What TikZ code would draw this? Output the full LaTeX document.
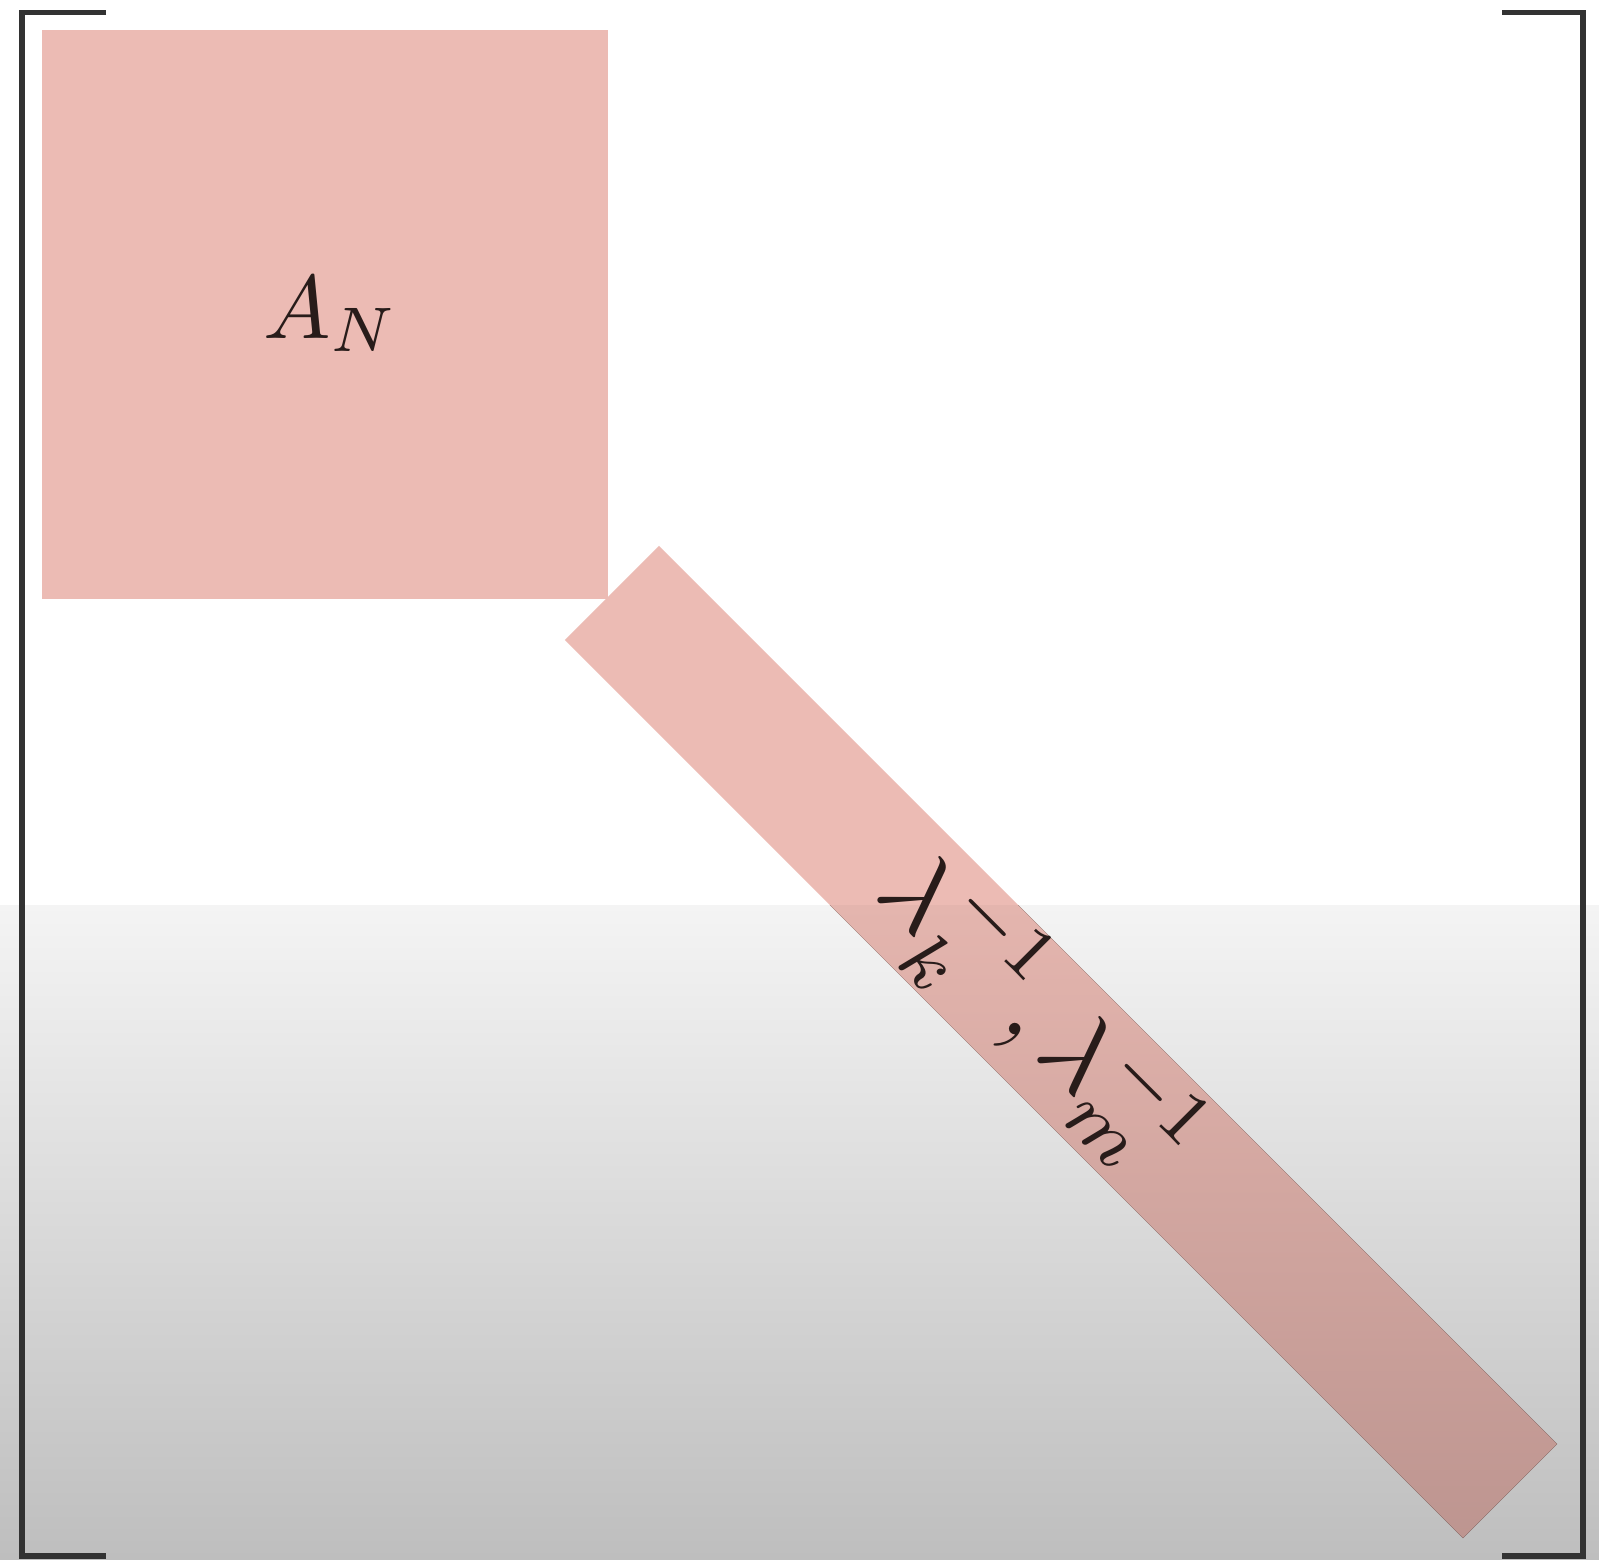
\documentclass[tikz,border=0pt]{standalone}
\usetikzlibrary{calc}
\definecolor{blockpink}{RGB}{236,187,180}
\definecolor{pinkmid}{RGB}{228,181,174}
\definecolor{pinkbot}{RGB}{188,148,143}
\definecolor{brk}{RGB}{50,50,50}
\definecolor{shadetop}{RGB}{244,244,244}
\definecolor{shadebot}{RGB}{190,190,190}
\tikzset{
  block/.style={fill=blockpink, draw=none, inner sep=0pt, outer sep=0pt},
  bracket/.style={draw=brk, line width=5.5pt, line cap=butt, line join=miter},
  lbl/.style={inner sep=0pt, text={rgb,255:red,40;green,28;blue,26}}
}
\begin{document}
\begin{tikzpicture}[x=1pt,y=-1pt]
\fill[white] (0,0) rectangle (1599,1559);
\useasboundingbox (0,0) rectangle (1599,1559);
% lower grey fade of the background
\fill[top color=shadetop, bottom color=shadebot] (0,905) rectangle (1599,1559);
% top-left block
\node[block, minimum width=566pt, minimum height=569pt] (AN) at (325,314.5) {};
\node[lbl, scale=9.0] (ANlabel) at (331,314) {$A_N$};
% diagonal block (shape only, filled below with the fade)
\node[draw=none, inner sep=0pt, outer sep=0pt, rotate=-45, minimum width=1270pt, minimum height=133pt] (diag) at (1061,1042) {};
\begin{scope}
  \clip (diag.north west) -- (diag.north east) -- (diag.south east) -- (diag.south west) -- cycle;
  \fill[blockpink] (0,0) rectangle (1599,905.5);
  \fill[top color=pinkmid, bottom color=pinkbot] (0,905) rectangle (1599,1559);
\end{scope}
\node[lbl, rotate=-45, scale=10.8] (diaglabel) at (1039,1017) {$\lambda_k^{-1},\lambda_m^{-1}$};
% brackets
\coordinate (lt) at (106,12.5);
\coordinate (lb) at (106,1556);
\coordinate (rt) at (1502,12.5);
\coordinate (rb) at (1502,1556);
\draw[bracket] (lt) -- (22,12.5) -- (22,1556) -- (lb);
\draw[bracket] (rt) -- (1583,12.5) -- (1583,1556) -- (rb);
\end{tikzpicture}
\end{document}
